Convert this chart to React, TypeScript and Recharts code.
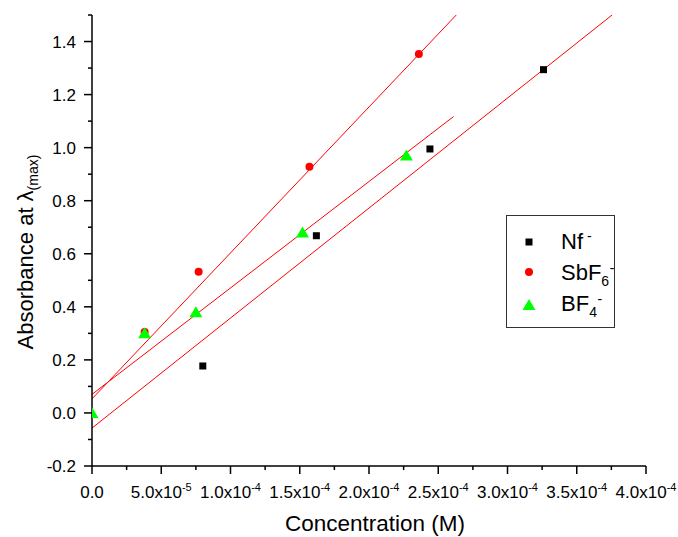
import React from 'react';
import { ComposedChart, Scatter, XAxis, YAxis, ReferenceLine, Legend } from 'recharts';

const FONT = '"Liberation Sans", Arial, sans-serif';

// measured points
const nfConc = [8.0e-5, 1.62e-4, 2.44e-4, 3.26e-4];
const nfAbs = [0.177, 0.668, 0.995, 1.294];
const sbConc = [3.8e-5, 7.7e-5, 1.57e-4, 2.36e-4];
const sbAbs = [0.305, 0.532, 0.928, 1.353];
const bfConc = [0, 3.8e-5, 7.5e-5, 1.52e-4, 2.27e-4];
const bfAbs = [0.0, 0.3, 0.38, 0.68, 0.97];

// linear fit lines, [start, end] as [conc, abs]
const nfFit = [[0, -0.057], [3.755e-4, 1.5]];
const sbFit = [[0, 0.053], [2.63e-4, 1.5]];
const bfFit = [[0, 0.07], [2.61e-4, 1.117]];

const concTicks = [0, 2.5e-5, 5e-5, 7.5e-5, 1e-4, 1.25e-4, 1.5e-4, 1.75e-4, 2e-4, 2.25e-4, 2.5e-4, 2.75e-4, 3e-4, 3.25e-4, 3.5e-4, 3.75e-4, 4e-4];
const absTicks = [-0.2, -0.1, 0, 0.1, 0.2, 0.3, 0.4, 0.5, 0.6, 0.7, 0.8, 0.9, 1.0, 1.1, 1.2, 1.3, 1.4, 1.5];

const toPts = (xs: number[], ys: number[]) => xs.map((x, i) => ({ x, y: ys[i] }));
const seg = (f: number[][]) => [{ x: f[0][0], y: f[0][1] }, { x: f[1][0], y: f[1][1] }];

const sci = (v: number) => {
    if (v === 0) return { m: '0.0', e: null as null | number };
    const e = Math.floor(Math.log10(v) + 1e-9);
    return { m: (v / Math.pow(10, e)).toFixed(1), e };
};

const XTick = (props: any) => {
    const { x, y, payload } = props;
    const idx = concTicks.indexOf(payload.value);
    const major = idx % 2 === 0;
    const { m, e } = sci(payload.value);
    return (
        <g>
            <line x1={x} x2={x} y1={y} y2={y + (major ? 8 : 4)} stroke="#000" strokeWidth={1.5} />
            {major && (
                <text x={x} y={y + 32} textAnchor="middle" fontSize={17} fontFamily={FONT} fill="#000">
                    {m}
                    {e !== null && (
                        <>
                            x10<tspan dy={-7} fontSize={11}>{e}</tspan>
                        </>
                    )}
                </text>
            )}
        </g>
    );
};

const YTick = (props: any) => {
    const { x, y, payload } = props;
    const idx = absTicks.indexOf(payload.value);
    const major = idx % 2 === 0;
    return (
        <g>
            <line x1={x - (major ? 8 : 4)} x2={x} y1={y} y2={y} stroke="#000" strokeWidth={1.5} />
            {major && (
                <text x={x - 16} y={y + 6} textAnchor="end" fontSize={17} fontFamily={FONT} fill="#000">
                    {payload.value.toFixed(1)}
                </text>
            )}
        </g>
    );
};

const Square = (p: any) => <rect x={p.cx - 3.5} y={p.cy - 3.5} width={7} height={7} fill="#000" />;
const Dot = (p: any) => <circle cx={p.cx} cy={p.cy} r={4} fill="#ff0000" />;
const Tri = (p: any) => (
    <polygon points={`${p.cx},${p.cy - 6} ${p.cx - 6.5},${p.cy + 5} ${p.cx + 6.5},${p.cy + 5}`} fill="#00ff00" />
);

const LegendBox = () => (
    <svg width={110} height={115} style={{ display: 'block' }}>
        <rect x={0.5} y={0.5} width={108} height={112} fill="#fff" stroke="#333" strokeWidth={1} />
        <Square cx={23} cy={27} />
        <Dot cx={23} cy={57} />
        <Tri cx={23} cy={90} />
        <g fontFamily={FONT} fill="#000">
            <text x={55} y={34} fontSize={22}>
                Nf<tspan dx={4} dy={-8} fontSize={14}>-</tspan>
            </text>
            <text x={55} y={65} fontSize={22}>
                SbF<tspan dy={6} fontSize={14}>6</tspan>
                <tspan dx={0.5} dy={-13} fontSize={14}>-</tspan>
            </text>
            <text x={55} y={96} fontSize={22}>
                BF<tspan dy={6} fontSize={14}>4</tspan>
                <tspan dx={0.5} dy={-13} fontSize={14}>-</tspan>
            </text>
        </g>
    </svg>
);

const App = () => {
    return (
        <div style={{ position: 'absolute', left: 0, top: 0, fontFamily: FONT }}>
            <ComposedChart width={678} height={537} margin={{ top: 15, right: 32, bottom: 0, left: 0 }}>
                <XAxis
                    dataKey="x"
                    type="number"
                    domain={[0, 4e-4]}
                    ticks={concTicks}
                    interval={0}
                    height={71}
                    tickSize={0}
                    tickMargin={0}
                    tickLine={false}
                    axisLine={{ stroke: '#000', strokeWidth: 1.5 }}
                    tick={<XTick />}
                    allowDataOverflow
                    label={{
                        content: () => (
                            <text x={375} y={531} textAnchor="middle" fontSize={22.5} fontFamily={FONT} fill="#000">
                                Concentration (M)
                            </text>
                        ),
                    }}
                />
                <YAxis
                    dataKey="y"
                    type="number"
                    domain={[-0.2, 1.5]}
                    ticks={absTicks}
                    interval={0}
                    width={92}
                    tickSize={0}
                    tickMargin={0}
                    tickLine={false}
                    axisLine={{ stroke: '#000', strokeWidth: 1.5 }}
                    tick={<YTick />}
                    allowDataOverflow
                    label={{
                        content: () => (
                            <text transform="translate(33,252) rotate(-90)" textAnchor="middle" fontSize={22} fontFamily={FONT} fill="#000">
                                Absorbance at λ<tspan dy={5} fontSize={14}>(max)</tspan>
                            </text>
                        ),
                    }}
                />
                <ReferenceLine segment={seg(nfFit)} stroke="#ff0000" strokeWidth={1} ifOverflow="visible" />
                <ReferenceLine segment={seg(sbFit)} stroke="#ff0000" strokeWidth={1} ifOverflow="visible" />
                <ReferenceLine segment={seg(bfFit)} stroke="#ff0000" strokeWidth={1} ifOverflow="visible" />
                <Scatter name="Nf-" data={toPts(nfConc, nfAbs)} shape={<Square />} isAnimationActive={false} />
                <Scatter name="SbF6-" data={toPts(sbConc, sbAbs)} shape={<Dot />} isAnimationActive={false} />
                <Scatter name="BF4-" data={toPts(bfConc, bfAbs)} shape={<Tri />} isAnimationActive={false} />
                <Legend
                    layout="vertical"
                    align="center"
                    verticalAlign="middle"
                    content={() => <LegendBox />}
                    wrapperStyle={{ left: 506, top: 215, width: 110, height: 115 }}
                />
            </ComposedChart>
        </div>
    );
};

export default App;
